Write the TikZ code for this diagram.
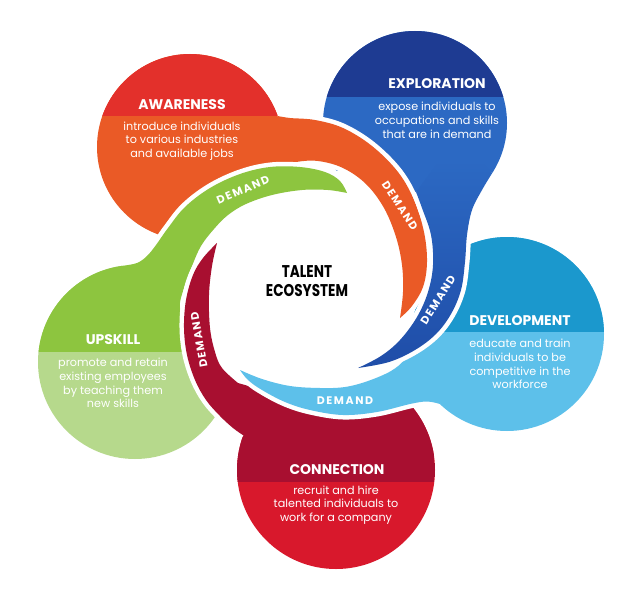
\documentclass[tikz,border=0pt]{standalone}
\usepackage{fontspec}
\setmainfont{Poppins}
\usepackage{xcolor}
\usepackage{tikz}

\definecolor{awTop}{HTML}{E3302B}
\definecolor{awLow}{HTML}{EA5A26}
\definecolor{exTop}{HTML}{1E3B92}
\definecolor{exLow}{HTML}{2C69C3}
\definecolor{exDeep}{HTML}{1F4DA8}
\definecolor{dvTop}{HTML}{1B98CD}
\definecolor{dvLow}{HTML}{5DC0EA}
\definecolor{coTop}{HTML}{A80F30}
\definecolor{coLow}{HTML}{D8182C}
\definecolor{upTop}{HTML}{8DC53F}
\definecolor{upLow}{HTML}{B6D98C}

\tikzset{
    whitegap/.style={draw=white, line width=9pt, line join=round},
    boxtitle/.style={text=white, font=\bfseries\fontsize{14}{16}\selectfont},
    boxbody/.style={text=white, align=center, font=\fontsize{11.2}{13.8}\selectfont},
    demandtag/.style={text=white, font=\bfseries\fontsize{11}{12}\selectfont\addfontfeatures{LetterSpace=14}},
}

% tails: outer edge to the tip, then inner edge back
\def\awTail{plot[smooth,tension=.6] coordinates {(277.7,116) (290,118) (315,120) (343,128) (372,146) (398,172) (414,200) (424,232) (427,262) (423,287) (412,306) (400,318)} -- plot[smooth,tension=.6] coordinates {(400,318) (403,292) (402,265) (396,237) (384,208) (366,184) (343,168) (318,161) (296,162) (280,167)}}
\def\upTail{plot[smooth,tension=.6] coordinates {(123.2,265.7) (137,263) (147,256) (156,245) (168,228) (185,207) (210,188) (240,174) (270,167) (300,167) (325,172) (340,181) (347,193)} -- plot[smooth,tension=.6] coordinates {(347,193) (328,190) (302,190) (272,195) (246,204) (228,215) (214,229) (201,246) (192,266) (184,288) (180,308) (190,330)}}
\def\coTail{plot[smooth,tension=.6] coordinates {(243.3,435.3) (233,428) (220,416) (206,400) (195,380) (187,355) (184,328) (186,300) (193,275) (203,258) (217,243)} -- plot[smooth,tension=.6] coordinates {(217,243) (212,266) (209,295) (210,328) (215,352) (222,368) (238,383)}}
\def\dvTail{plot[smooth,tension=.6] coordinates {(439.9,404) (427,401.5) (410,404) (377,412) (343,415) (310,410) (285,402) (262,390) (248,380) (240,370)} -- plot[smooth,tension=.6] coordinates {(240,370) (262,379) (290,386) (320,388) (345,387) (368,381) (391,371) (404,360) (406,350)}}
\def\exTail{plot[smooth,tension=.6] coordinates {(492.2,173.1) (482,190) (472,210) (467,235) (465,262) (461,290) (451,314) (436,334) (415,350) (389,362) (358,368)} -- plot[smooth,tension=.6] coordinates {(358,368) (381,356) (400,340) (417,317) (428,292) (433,265) (431,235) (422,208) (416,192)}}

\begin{document}
\begin{tikzpicture}[x=1pt, y=-1pt]
    \fill[white] (0,0) rectangle (642,594);
    \useasboundingbox (0,0) rectangle (642,594);

    % Circles, dark band on top
    \foreach \cx/\cy/\r/\s/\ctop/\clow in {190/147/93/116/awTop/awLow, 415/123/92/97/exTop/exLow, 507/334/97/332/dvTop/dvLow, 336/470/99/482/coTop/coLow, 135/362/97/352/upTop/upLow} {
        \fill[fill=\clow] (\cx,\cy) circle (\r);
        \begin{scope}
            \clip (\cx,\cy) circle (\r);
            \fill[fill=\ctop] (\cx-\r,\cy-\r) rectangle (\cx+\r,\s);
        \end{scope}
    }

    % White hub
    \fill[white] plot[smooth cycle,tension=.6] coordinates {(300,170) (330,170) (360,176) (390,200) (408,240) (414,280) (416,305) (405,335) (385,352) (368,382) (345,392) (320,398) (290,394) (255,386) (226,371) (208,350) (198,320) (198,290) (203,264) (209,240) (222,222) (240,205) (262,188)};

    % Awareness tail
    \draw[whitegap] \awTail;
    \fill[awLow] \awTail -- (250,150) -- cycle;
    % Upskill tail
    \draw[whitegap] \upTail;
    \fill[upTop] \upTail -- (150,330) -- (110,290) -- cycle;
    % Connection tail
    \draw[whitegap] \coTail;
    \fill[coTop] \coTail -- (252,387) -- (300,400) -- (340,402) -- (300,450) -- cycle;
    % Development tail
    \draw[whitegap] \dvTail;
    \fill[dvLow] \dvTail -- (445,352) -- (470,380) -- cycle;
    % Exploration tail
    \draw[whitegap] \exTail;
    \shade[top color=exLow, bottom color=exDeep] \exTail -- (440,160) -- (480,160) -- cycle;

    % Labels
    \node[boxtitle] (awT) at (182,105) {AWARENESS};
    \node[boxbody] (awB) at (182,141) {introduce individuals\\to various industries\\and available jobs};
    \node[boxtitle] (exT) at (437,84) {EXPLORATION};
    \node[boxbody] (exB) at (437,120) {expose individuals to\\occupations and skills\\that are in demand};
    \node[boxtitle] (dvT) at (520,321) {DEVELOPMENT};
    \node[boxbody] (dvB) at (520,364) {educate and train\\individuals to be\\competitive in the\\workforce};
    \node[boxtitle] (coT) at (337,470) {CONNECTION};
    \node[boxbody] (coB) at (336,505) {recruit and hire\\talented individuals to\\work for a company};
    \node[boxtitle] (upT) at (113,340) {UPSKILL};
    \node[boxbody] (upB) at (113,383) {promote and retain\\existing employees\\by teaching them\\new skills};

    \node[align=center, font=\bfseries\fontsize{17}{18.5}\selectfont] (hubT) at (307,281) {\scalebox{.8}[1]{TALENT}\\\scalebox{.8}[1]{ECOSYSTEM}};

    \node[demandtag, rotate=23] (dUp) at (243,190) {DEMAND};
    \node[demandtag, rotate=-57] (dAw) at (400,206) {DEMAND};
    \node[demandtag, rotate=58] (dEx) at (438,300) {DEMAND};
    \node[demandtag] (dDv) at (345,401) {DEMAND};
    \node[demandtag, rotate=100] (dCo) at (199,340) {DEMAND};
\end{tikzpicture}
\end{document}
